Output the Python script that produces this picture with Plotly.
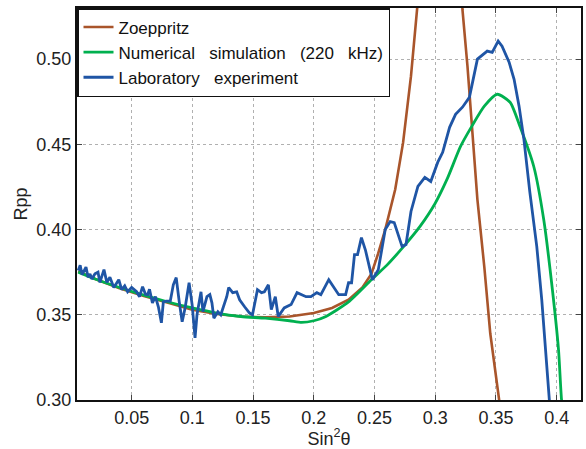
import plotly.graph_objects as go

# Zoeppritz (brown)
zoe_x = [0.006, 0.02, 0.04, 0.06, 0.08, 0.10, 0.12, 0.14, 0.16, 0.18, 0.20, 0.215, 0.2286, 0.24, 0.2474,
         0.253, 0.2588, 0.2637, 0.267, 0.2735, 0.28, 0.285, 0.288, 0.295, 0.305, 0.315, 0.3224, 0.3265,
         0.3306, 0.3347, 0.3404, 0.3453, 0.3526, 0.356]
zoe_y = [0.3755, 0.371, 0.3655, 0.361, 0.357, 0.353, 0.3505, 0.349, 0.3485, 0.349, 0.351, 0.354, 0.3588, 0.366, 0.374,
         0.386, 0.40, 0.414, 0.4235, 0.451, 0.49, 0.529, 0.56, 0.65, 0.70, 0.65, 0.529, 0.496,
         0.457, 0.4176, 0.378, 0.339, 0.30, 0.28]

# Numerical simulation (green)
sim_x = [0.006, 0.02, 0.04, 0.06, 0.08, 0.10, 0.12, 0.14, 0.16, 0.18, 0.19, 0.20, 0.21, 0.2286, 0.2474,
         0.26, 0.2751, 0.2876, 0.2996, 0.31, 0.3208, 0.3304, 0.3404, 0.351, 0.3616, 0.3697, 0.3811,
         0.3893, 0.3958, 0.4015, 0.404, 0.406]
sim_y = [0.375, 0.371, 0.366, 0.3615, 0.3575, 0.354, 0.351, 0.349, 0.348, 0.3465, 0.3455, 0.3465, 0.349,
         0.3576, 0.3706, 0.379, 0.391, 0.402, 0.415, 0.430, 0.4488, 0.461, 0.4724, 0.4794, 0.4747, 0.4606,
         0.437, 0.4059, 0.3688, 0.3294, 0.30, 0.29]

# Laboratory experiment (blue)
lab_x = [0.006, 0.0076, 0.0092, 0.0108, 0.0124, 0.0141, 0.0157, 0.0173, 0.0198, 0.0223, 0.0239, 0.0272,
         0.0296, 0.0321, 0.0353, 0.0394, 0.0418, 0.0443, 0.0467, 0.05, 0.0541, 0.0565, 0.059, 0.0614,
         0.0631, 0.0647, 0.0671, 0.0696, 0.072, 0.0745, 0.0761, 0.0785, 0.0818, 0.0843, 0.0867, 0.0892,
         0.0916, 0.094, 0.0973, 0.0998, 0.1022, 0.1038, 0.1071, 0.1087, 0.112, 0.1144, 0.1161, 0.1177,
         0.121, 0.1234, 0.1283, 0.1299, 0.1332, 0.1365, 0.1389, 0.143, 0.1471, 0.1495, 0.1536, 0.1569,
         0.1593, 0.1626, 0.1650, 0.1683, 0.1707, 0.1756, 0.1813, 0.1862, 0.1936, 0.1976, 0.2025, 0.2058,
         0.2123, 0.2205, 0.2262, 0.2286, 0.2311, 0.2335, 0.236, 0.2392, 0.2425, 0.2482, 0.2531, 0.2588,
         0.2629, 0.2662, 0.2727, 0.2759, 0.28, 0.2857, 0.2914, 0.2963, 0.302, 0.3061, 0.3118, 0.3167,
         0.3224, 0.3281, 0.3347, 0.3428, 0.3469, 0.3518, 0.355, 0.3608, 0.3649, 0.369, 0.373, 0.3779,
         0.3836, 0.3877, 0.3918, 0.3934, 0.395]
lab_y = [0.376, 0.379, 0.3735, 0.376, 0.378, 0.372, 0.374, 0.371, 0.374, 0.375, 0.369, 0.3765,
         0.369, 0.372, 0.366, 0.3706, 0.3647, 0.367, 0.3635, 0.366, 0.3635, 0.3606, 0.3665, 0.362,
         0.3618, 0.365, 0.357, 0.3606, 0.3547, 0.3453, 0.3576, 0.358, 0.358, 0.3676, 0.3718, 0.3576,
         0.3459, 0.354, 0.3688, 0.356, 0.3365, 0.35, 0.3635, 0.3518, 0.3606, 0.3618, 0.357, 0.348,
         0.3518, 0.35, 0.3606, 0.366, 0.363, 0.3635, 0.3588, 0.3547, 0.351, 0.35, 0.3647, 0.363,
         0.3635, 0.3676, 0.353, 0.3606, 0.349, 0.354, 0.356, 0.363, 0.3606, 0.3606, 0.363, 0.3618,
         0.3706, 0.3618, 0.3618, 0.3688, 0.3688, 0.3853, 0.3853, 0.3953, 0.388, 0.3706, 0.3765, 0.40,
         0.4047, 0.4041, 0.39, 0.3912, 0.4106, 0.4253, 0.4306, 0.4282, 0.4394, 0.4453, 0.46, 0.4676,
         0.4718, 0.4776, 0.50, 0.5047, 0.504, 0.5106, 0.5076, 0.4982, 0.4882, 0.4724, 0.4529, 0.4218,
         0.39, 0.3588, 0.3194, 0.30, 0.29]

x_ticks = [0.05, 0.1, 0.15, 0.2, 0.25, 0.3, 0.35, 0.4]
x_tick_text = ["0.05", "0.1", "0.15", "0.2", "0.25", "0.3", "0.35", "0.4"]
y_ticks = [0.30, 0.35, 0.40, 0.45, 0.50]

FONT = "Liberation Sans, Arial, sans-serif"
SP = "\u00a0\u00a0 "

fig = go.Figure()
fig.add_trace(go.Scatter(x=zoe_x, y=zoe_y, mode="lines", name="Zoeppritz",
                         line=dict(color="#A9552B", width=2.6)))
fig.add_trace(go.Scatter(x=sim_x, y=sim_y, mode="lines",
                         name="Numerical" + SP + "simulation" + SP + "(220" + SP + "kHz)",
                         line=dict(color="#00B04F", width=2.8, shape="spline", smoothing=0.6)))
fig.add_trace(go.Scatter(x=lab_x, y=lab_y, mode="lines",
                         name="Laboratory" + SP + "experiment",
                         line=dict(color="#1F55A5", width=2.8)))

axis_common = dict(
    showline=True, linecolor="#111", linewidth=2, mirror="ticks",
    ticks="inside", ticklen=5, tickcolor="#444", tickwidth=1,
    showgrid=True, gridcolor="#b0b0b0", griddash="dot", gridwidth=1,
    zeroline=False, tickfont=dict(size=18, color="#222", family=FONT),
)

fig.update_layout(
    width=586, height=449,
    margin=dict(l=77, r=3, t=8, b=49),
    paper_bgcolor="white", plot_bgcolor="white",
    font=dict(family=FONT, size=18, color="#222"),
    xaxis=dict(range=[0.005, 0.42], tickvals=x_ticks, ticktext=x_tick_text,
               title=dict(text="Sin<sup>2</sup>θ", font=dict(size=18), standoff=2),
               **axis_common),
    yaxis=dict(range=[0.30, 0.53], tickvals=y_ticks, tickformat=".2f",
               title=dict(text="Rpp", font=dict(size=18), standoff=4),
               **axis_common),
    legend=dict(x=0, y=1, xanchor="left", yanchor="top",
                bgcolor="white", bordercolor="#111", borderwidth=1.5,
                font=dict(size=17, color="#111", family=FONT),
                tracegroupgap=0, itemwidth=30),
    showlegend=True,
)

fig.write_html("out.html")
